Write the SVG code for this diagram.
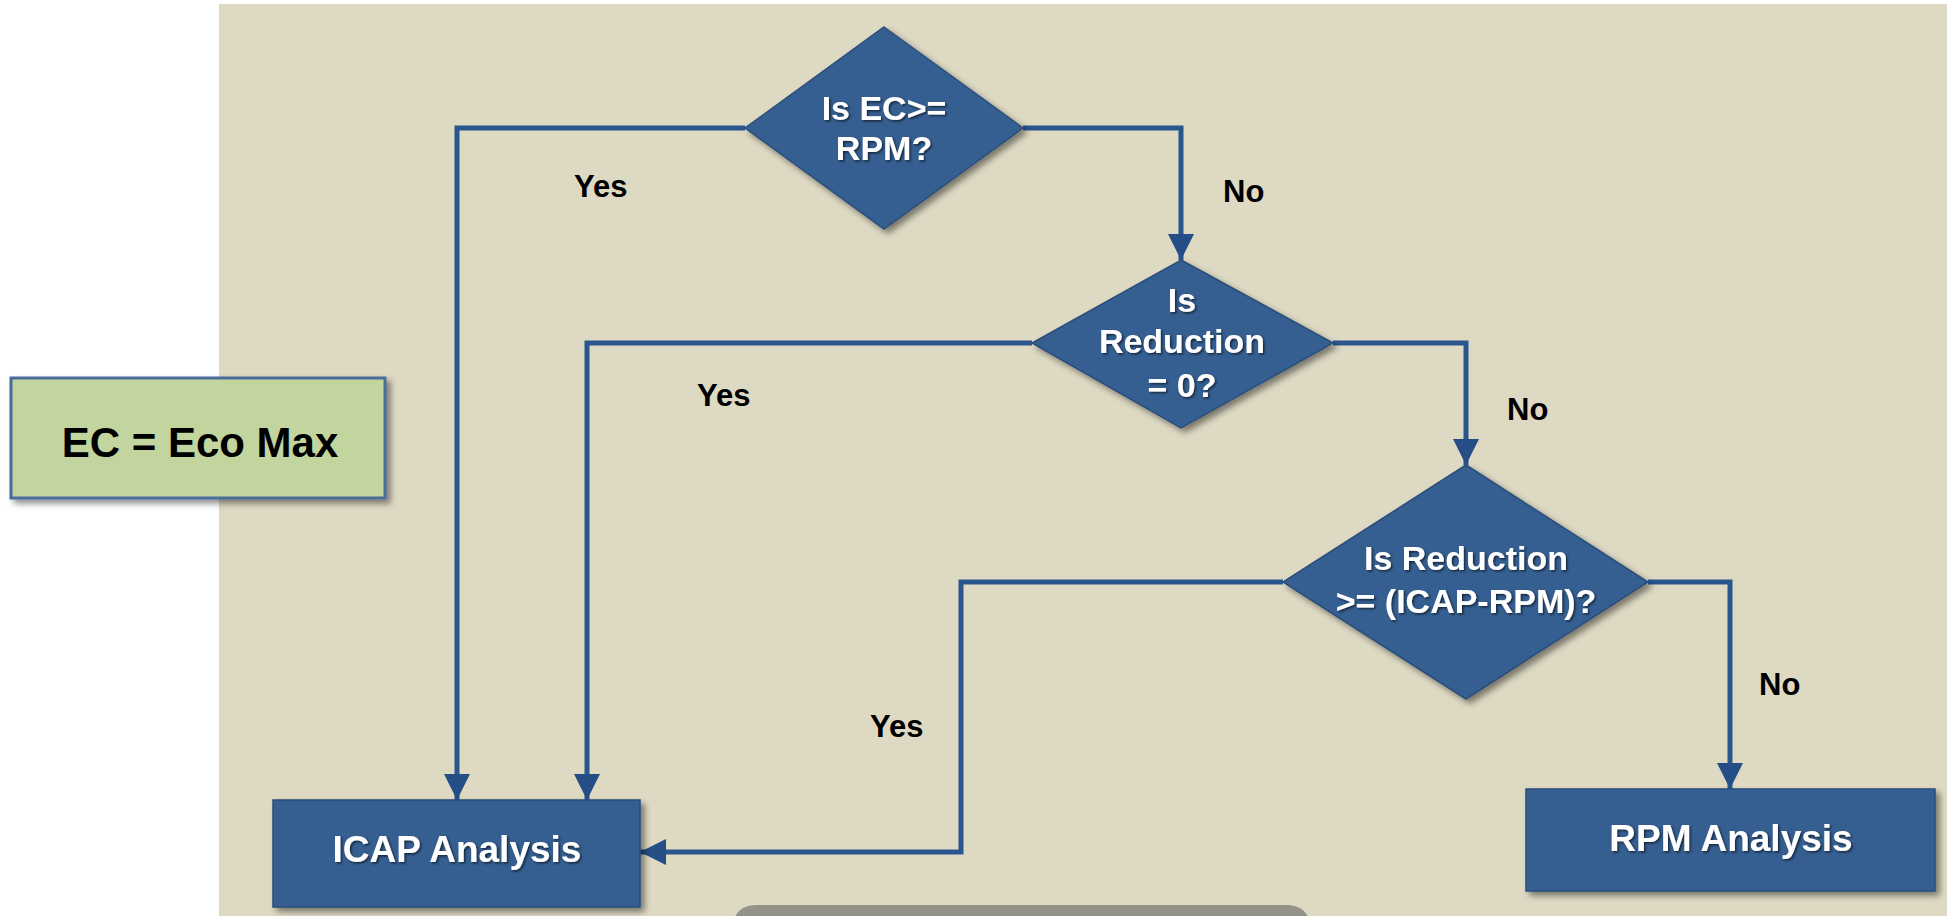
<svg xmlns="http://www.w3.org/2000/svg" width="1947" height="916" viewBox="0 0 1947 916">
  <defs>
    <filter id="sh" x="-10%" y="-10%" width="130%" height="130%">
      <feDropShadow dx="4" dy="4" stdDeviation="3" flood-color="#000" flood-opacity="0.45"/>
    </filter>
    <filter id="tsh" x="-5%" y="-10%" width="115%" height="130%">
      <feDropShadow dx="1.5" dy="1.5" stdDeviation="0.8" flood-color="#000" flood-opacity="0.6"/>
    </filter>
    <marker id="arr" viewBox="0 0 26 26" refX="26" refY="13" markerWidth="26" markerHeight="26" markerUnits="userSpaceOnUse" orient="auto">
      <path d="M0,0 L26,13 L0,26 z" fill="#254e86"/>
    </marker>
  </defs>
  <style>
    .shape { fill: #365f91; stroke: #2a4d7a; stroke-width: 1.5; filter: url(#sh); }
    .wt { font-family: "Liberation Sans", Arial, sans-serif; font-weight: bold; fill: #ffffff; text-anchor: middle; filter: url(#tsh); }
    .lbl { font-family: "Liberation Sans", Arial, sans-serif; font-weight: bold; fill: #000000; font-size: 31px; }
    .conn { fill: none; stroke: #2a5690; stroke-width: 5; marker-end: url(#arr); }
  </style>
  <rect x="0" y="0" width="1947" height="916" fill="#ffffff"/>
  <rect x="219" y="4" width="1728" height="912" fill="#ded9c3"/>
  <rect x="733" y="905" width="577" height="40" rx="22" fill="#94938a"/>

  <g id="connectors">
    <path class="conn" d="M745,128 H457 V800"/>
    <path class="conn" d="M1023,128 H1181 V260"/>
    <path class="conn" d="M1032,343 H587 V800"/>
    <path class="conn" d="M1333,343 H1466 V465"/>
    <path class="conn" d="M1283,582 H961 V852 H640"/>
    <path class="conn" d="M1648,582 H1730 V789"/>
  </g>

  <g id="labels">
    <text class="lbl" x="574" y="197">Yes</text>
    <text class="lbl" x="1223" y="202">No</text>
    <text class="lbl" x="697" y="406">Yes</text>
    <text class="lbl" x="1507" y="420">No</text>
    <text class="lbl" x="870" y="737">Yes</text>
    <text class="lbl" x="1759" y="695">No</text>
  </g>

  <g id="ec-box">
    <rect x="11" y="378" width="374" height="120" fill="#c3d59e" stroke="#4a6c9b" stroke-width="3" filter="url(#sh)"/>
    <text x="200" y="457" font-family="Liberation Sans, Arial, sans-serif" font-weight="bold" font-size="42" fill="#000" text-anchor="middle">EC = Eco Max</text>
  </g>

  <g id="d1">
    <polygon class="shape" points="884,27 1023,128 884,229 745,128"/>
    <text class="wt" font-size="34" x="884" y="120">Is EC&gt;=</text>
    <text class="wt" font-size="34" x="884" y="160">RPM?</text>
  </g>

  <g id="d2">
    <polygon class="shape" points="1181,260 1333,343 1181,428 1032,343"/>
    <text class="wt" font-size="34" x="1182" y="312">Is</text>
    <text class="wt" font-size="34" x="1182" y="353">Reduction</text>
    <text class="wt" font-size="34" x="1182" y="397">= 0?</text>
  </g>

  <g id="d3">
    <polygon class="shape" points="1466,465 1648,582 1466,699 1283,582"/>
    <text class="wt" font-size="34" x="1466" y="570">Is Reduction</text>
    <text class="wt" font-size="34" x="1466" y="613">&gt;= (ICAP-RPM)?</text>
  </g>

  <g id="icap">
    <rect class="shape" x="273" y="800" width="367" height="107"/>
    <text class="wt" font-size="37" x="457" y="862">ICAP Analysis</text>
  </g>

  <g id="rpm">
    <rect class="shape" x="1526" y="789" width="409" height="102"/>
    <text class="wt" font-size="37" x="1731" y="851">RPM Analysis</text>
  </g>
</svg>
